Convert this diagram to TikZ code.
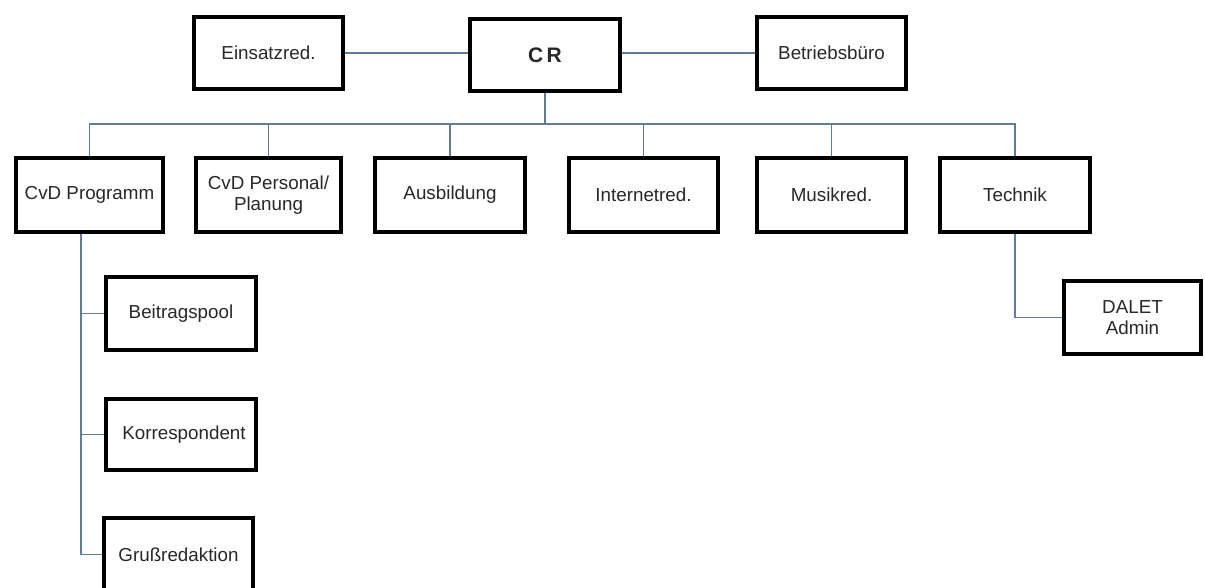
\documentclass[tikz,border=0pt]{standalone}
\usepackage{fontspec}
\setmainfont{Liberation Sans}
\definecolor{conn}{RGB}{95,125,150}
\definecolor{txt}{RGB}{40,40,40}
\tikzset{
  box/.style={draw=black, line width=4pt, fill=white, rectangle, inner sep=0pt,
    align=center, text=txt, font=\fontsize{18.8}{21}\selectfont},
  wire/.style={draw=conn, line width=1.2pt},
}
\begin{document}
\begin{tikzpicture}[x=1pt,y=-1pt]
\useasboundingbox (0,0) rectangle (1205,588);
\clip (0,0) rectangle (1205,588);
% top row
\node[box, minimum width=149pt, minimum height=72pt] (ein) at (268.5,53) {Einsatzred.};
\node[box, minimum width=150pt, minimum height=72pt, font=\fontsize{21}{24}\selectfont\bfseries] (cr) at (545,55) {C\,R};
\node[box, minimum width=149pt, minimum height=72pt] (bb) at (831.5,53) {Betriebsbüro};
% second row
\node[box, minimum width=147pt, minimum height=74pt] (cvp) at (89.5,195) {CvD Programm};
\node[box, minimum width=145pt, minimum height=74pt] (cvd) at (268.5,195) {CvD Personal/\\Planung};
\node[box, minimum width=150pt, minimum height=74pt] (ausb) at (450,195) {Ausbildung};
\node[box, minimum width=149pt, minimum height=74pt] (inet) at (643.5,195) {Internetred.};
\node[box, minimum width=149pt, minimum height=74pt] (musik) at (831.5,195) {Musikred.};
\node[box, minimum width=150pt, minimum height=74pt] (tech) at (1015,195) {Technik};
% left column
\node[box, minimum width=150pt, minimum height=73pt] (beit) at (181,313.5) {Beitragspool};
\node[box, minimum width=150pt, minimum height=71pt] (korr) at (181,434.5) {\hspace*{6pt}Korrespondent};
\node[box, minimum width=149pt, minimum height=73pt] (gruss) at (178.5,554.5) {Grußredaktion};
% DALET
\node[box, minimum width=137pt, minimum height=73pt] (dalet) at (1132.5,317.5) {DALET\\Admin};
% connectors
\coordinate (bus) at (545,124);
\coordinate (cvpb) at (81,234);
\draw[wire] (ein.east) -- (cr.west |- ein.east);
\draw[wire] (cr.east |- bb.west) -- (bb.west);
\draw[wire] (cr.south) -- (bus);
\foreach \c in {cvp,cvd,ausb,inet,musik,tech}{
  \draw[wire] (bus) -| (\c.north);
}
\draw[wire] (cvpb) |- (beit.west);
\draw[wire] (cvpb) |- (korr.west);
\draw[wire] (cvpb) |- (gruss.west);
\draw[wire] (tech.south) |- (dalet.west);
\end{tikzpicture}
\end{document}
